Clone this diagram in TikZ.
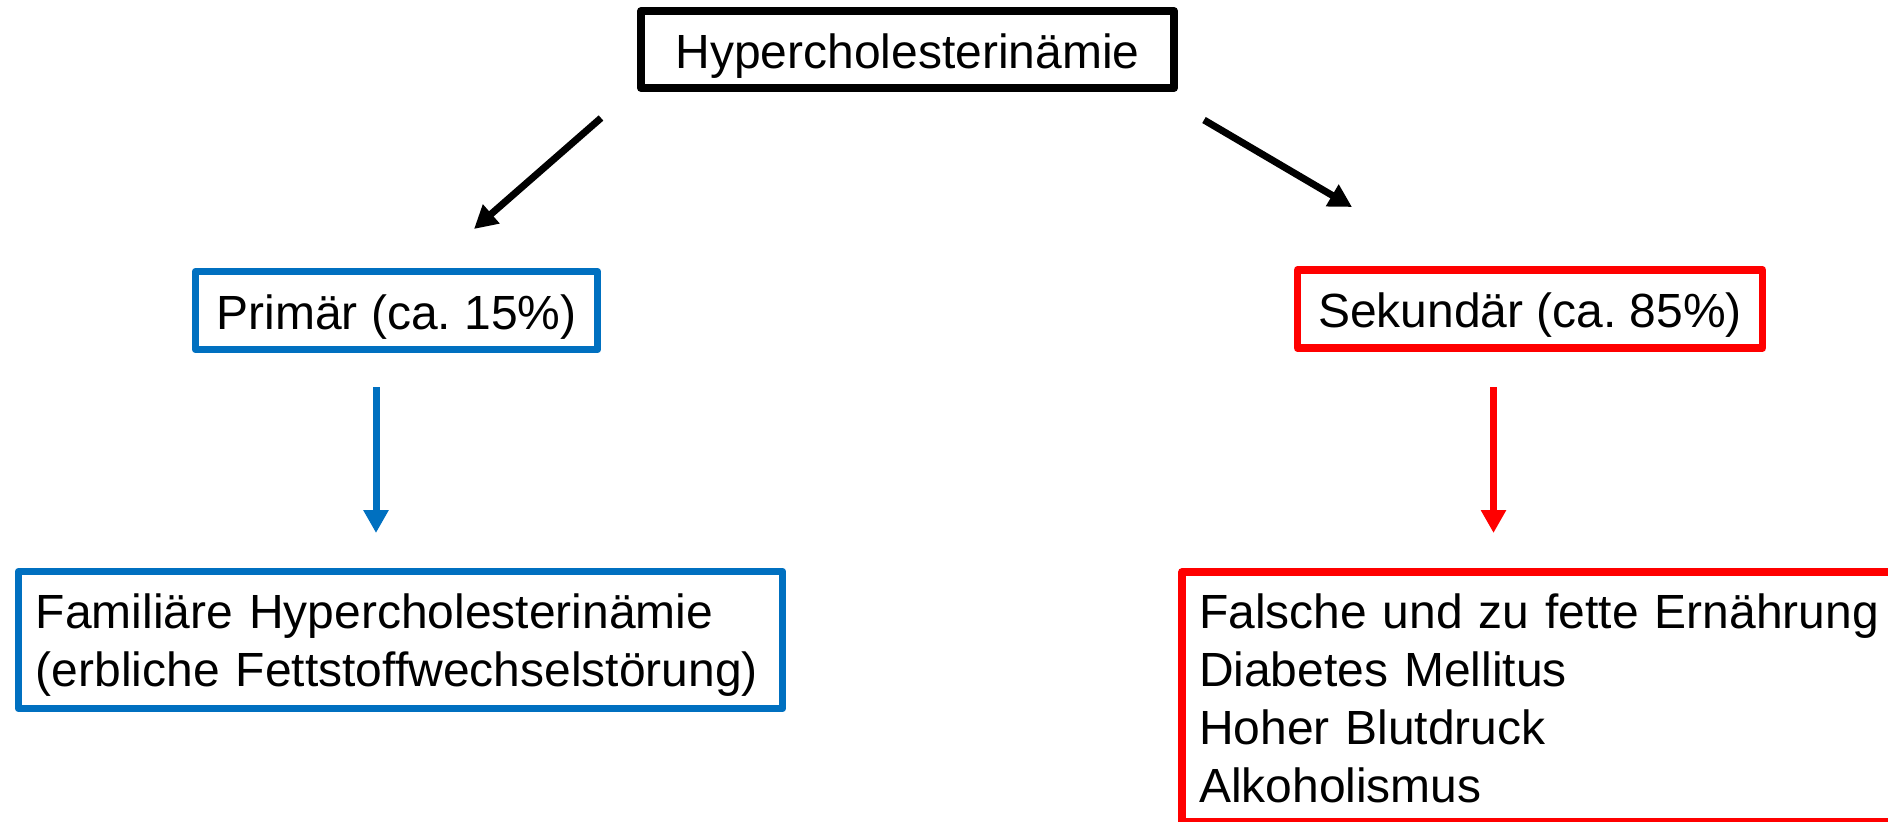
\documentclass[tikz,border=0pt]{standalone}
\usepackage{fontspec}
\setmainfont{Liberation Sans}
\usepackage{xcolor}
\usepackage{tikz}
\usetikzlibrary{arrows.meta}
\definecolor{primblue}{RGB}{0,112,192}
\definecolor{sekred}{RGB}{255,0,0}
\tikzset{
  box/.style={draw,line width=0.15cm,line join=round,inner sep=0pt,
    font=\fontsize{27.3}{33}\selectfont,text height=0.74cm,text depth=0pt},
  arr/.style={line width=0.14cm,-{Triangle[width=0.48cm,length=0.46cm]}},
}

\begin{document}
\begin{tikzpicture}[scale=1.0]
    \useasboundingbox (0,0) rectangle (37.76,-16.42);
    \clip (0,0) rectangle (37.76,-16.42);
    \node[box,line width=0.16cm,minimum width=10.66cm,minimum height=1.54cm] (hc) at (18.15,-0.99) {Hypercholesterinämie};
    \node[box,draw=primblue,minimum width=8.04cm,minimum height=1.56cm] (prim) at (7.93,-6.21) {Primär (ca.\ 15\%)};
    \node[box,draw=sekred,minimum width=9.3cm,minimum height=1.56cm] (sek) at (30.6,-6.18) {Sekundär (ca.\ 85\%)};
    \node[box,draw=primblue,align=left,text width=14.58cm,inner xsep=0.35cm,minimum height=2.74cm,
      text height=0.68cm,text depth=33pt] (fam) at (8.01,-12.8)
      {Familiäre Hypercholesterinämie\\(erbliche Fettstoffwechselstörung)};
    \node[box,draw=sekred,align=left,text width=13.88cm,inner xsep=0.34cm,minimum height=4.99cm,
      text depth=99pt] (ursachen) at (30.92,-13.935)
      {Falsche und zu fette Ernährung\\Diabetes Mellitus\\Hoher Blutdruck\\Alkoholismus};
    % free ends of the arrows
    \coordinate (l0) at (12.02,-2.36);
    \coordinate (l1) at (9.48,-4.58);
    \coordinate (r0) at (24.08,-2.40);
    \coordinate (r1) at (27.04,-4.14);
    \coordinate (p0) at (7.52,-7.74);
    \coordinate (p1) at (7.52,-10.66);
    \coordinate (s0) at (29.87,-7.74);
    \coordinate (s1) at (29.87,-10.66);
    \draw[arr] (l0) -- (l1);
    \draw[arr] (r0) -- (r1);
    \draw[arr,primblue] (p0) -- (p1);
    \draw[arr,sekred] (s0) -- (s1);
\end{tikzpicture}
\end{document}
